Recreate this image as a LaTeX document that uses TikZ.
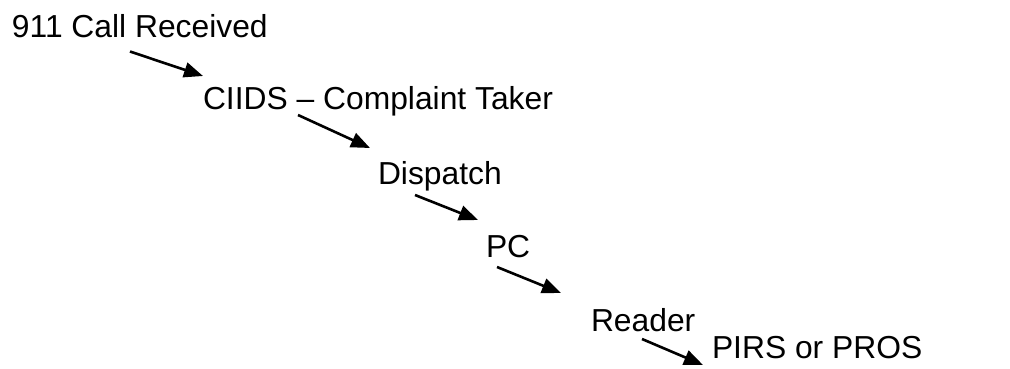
\documentclass[tikz,border=0pt]{standalone}
\usepackage{fontspec}
\setmainfont{Liberation Sans}
\usetikzlibrary{arrows.meta}
\begin{document}
\begin{tikzpicture}[x=1pt,y=1pt,
  step label/.style={anchor=base west, inner sep=0pt, outer sep=0pt,
    font=\fontsize{31.8}{36}\selectfont},
  flow/.style={line width=2.6pt, -{Triangle[length=19pt,width=15pt]}}]
  \useasboundingbox (0,0) rectangle (1010,369);
  % stages of the call, stepped down to the right
  \node[step label] (call)     at (12,331)  {911 Call Received};
  \node[step label] (ciids)    at (203,259) {CIIDS – Complaint Taker};
  \node[step label] (dispatch) at (378,184) {Dispatch};
  \node[step label] (pc)       at (486,111) {PC};
  \node[step label] (reader)   at (591,37)  {Reader};
  \node[step label] (pirs)     at (712,10)  {PIRS or PROS};
  % arrow anchors between consecutive stages
  \coordinate (a1) at (130,317.5); \coordinate (b1) at (203,293);
  \coordinate (a2) at (298,254);   \coordinate (b2) at (370,221);
  \coordinate (a3) at (415,174);   \coordinate (b3) at (478,149);
  \coordinate (a4) at (497,102);   \coordinate (b4) at (561,76);
  \coordinate (a5) at (642,30);    \coordinate (b5) at (703,4);
  \draw[flow] (a1) -- (b1);
  \draw[flow] (a2) -- (b2);
  \draw[flow] (a3) -- (b3);
  \draw[flow] (a4) -- (b4);
  \draw[flow] (a5) -- (b5);
\end{tikzpicture}
\end{document}
